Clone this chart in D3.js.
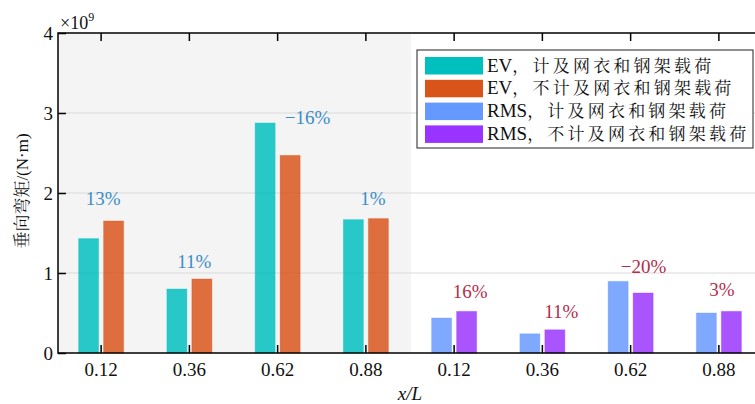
<!DOCTYPE html>
<html><head><meta charset="utf-8">
<script src="https://cdn.jsdelivr.net/npm/d3@7"></script>
<style>body{margin:0;background:#fff}svg{display:block}</style>
</head><body>
<svg id="chart" width="755" height="404"></svg>
<script>
// ---- data ----
const categories = ["0.12","0.36","0.62","0.88","0.12","0.36","0.62","0.88"];
const evWith     = [1.43, 0.80, 2.875, 1.667];
const evWithout  = [1.65, 0.925, 2.47, 1.68];
const rmsWith    = [0.4375, 0.24, 0.895, 0.50];
const rmsWithout = [0.52, 0.29, 0.75, 0.52];
const evPct  = ["13%","11%","\u221216%","1%"];
const rmsPct = ["16%","11%","\u221220%","3%"];
const evPctAt  = [1.93, 1.14, 2.95, 1.93];
const rmsPctAt = [0.77, 0.52, 1.08, 0.80];
const yTicks = [0,1,2,3,4];
const seriesNames = ["EV，计及网衣和钢架载荷","EV，不计及网衣和钢架载荷","RMS，计及网衣和钢架载荷","RMS，不计及网衣和钢架载荷"];
const seriesColors = ["#00bfbf","#d9541a","#6699ff","#9933ff"];

// ---- layout ----
const W = 755, H = 404;
const m = {left:58, top:33, bottom:353, right:763};
const evDx = [2, 5, 30, 7];
const rmsDx = [16, 19, 13, 3];
const serif = "'Liberation Serif','DejaVu Serif',serif";
const cjk = "'Liberation Serif','Noto Serif CJK SC','Noto Sans CJK SC',serif";

const svg = d3.select("#chart");
const idx = d3.range(categories.length);
const x = d3.scaleBand().domain(idx).range([m.left - 1, m.right]).padding(0);
const y = d3.scaleLinear().domain([0,4]).range([m.bottom, m.top]);
const step = x.bandwidth();
const inner = d3.scaleBand().domain([0,1]).range([step/2 - 22.5, step/2 + 22.5]).paddingInner(0.2);

// gray background for EV half
svg.append("rect").attr("x", m.left).attr("y", m.top)
  .attr("width", x(4) + 1 - m.left).attr("height", m.bottom - m.top).attr("fill", "#f4f4f4");

// gridlines
svg.append("g").selectAll("line").data(yTicks.slice(1,4)).join("line")
  .attr("x1", m.left).attr("x2", m.right).attr("y1", d=>y(d)).attr("y2", d=>y(d))
  .attr("stroke", "#dadada").attr("stroke-width", 1);

// bars
const groups = [
  {start:0, vals:[evWith, evWithout], cols:[seriesColors[0], seriesColors[1]]},
  {start:4, vals:[rmsWith, rmsWithout], cols:[seriesColors[2], seriesColors[3]]}
];
const barData = [];
groups.forEach(g => g.vals.forEach((arr, s) => arr.forEach((v, i) =>
  barData.push({cat: g.start + i, s, v, c: g.cols[s]}))));
svg.append("g").selectAll("rect").data(barData).join("rect")
  .attr("x", d => x(d.cat) + inner(d.s))
  .attr("width", inner.bandwidth())
  .attr("y", d => y(d.v))
  .attr("height", d => y(0) - y(d.v))
  .attr("fill", d => d.c).attr("fill-opacity", 0.84)
  .attr("stroke", d => d.c).attr("stroke-opacity", 0.35).attr("stroke-width", 1);

// percent labels
const lab = [];
evPct.forEach((t,i)=>lab.push({cat:i, t, v:evPctAt[i], dx:evDx[i], c:"#3a8dc8"}));
rmsPct.forEach((t,i)=>lab.push({cat:4+i, t, v:rmsPctAt[i], dx:rmsDx[i], c:"#b52c4c"}));
svg.append("g").selectAll("text").data(lab).join("text")
  .attr("x", d => x(d.cat) + step/2 + d.dx)
  .attr("y", d => y(d.v) + 6.5)
  .attr("text-anchor", "middle")
  .attr("font-family", serif).attr("font-size", 19)
  .attr("fill", d => d.c).text(d => d.t);

// axes box
const axisG = svg.append("g");
axisG.append("rect").attr("x", m.left).attr("y", m.top)
  .attr("width", m.right - m.left).attr("height", m.bottom - m.top)
  .attr("fill", "none").attr("stroke", "#000").attr("stroke-width", 1.5);

const xb = axisG.append("g").attr("transform", `translate(0,${m.bottom})`)
  .call(d3.axisBottom(x).tickSize(-8).tickPadding(10).tickFormat(i => categories[i]));
const xt = axisG.append("g").attr("transform", `translate(0,${m.top})`)
  .call(d3.axisTop(x).tickSize(-8).tickFormat(""));
const yl = axisG.append("g").attr("transform", `translate(${m.left},0)`)
  .call(d3.axisLeft(y).tickValues(yTicks).tickSize(-8).tickPadding(5).tickFormat(d3.format("d")));
const yr = axisG.append("g").attr("transform", `translate(${m.right},0)`)
  .call(d3.axisRight(y).tickValues(yTicks).tickSize(-8).tickFormat(""));
[xb, xt, yl, yr].forEach(g => {
  g.select(".domain").remove();
  g.selectAll(".tick line").attr("stroke", "#000").attr("stroke-width", 1.5);
  g.selectAll(".tick text").attr("font-family", serif).attr("font-size", 19).attr("fill", "#111");
});
xb.selectAll(".tick text").attr("dy", "0.71em");
yl.selectAll(".tick text").attr("dy", "0.35em");

// exponent
const ex = svg.append("text").attr("x", 60).attr("y", 29)
  .attr("font-family", serif).attr("font-size", 18).attr("fill", "#111");
ex.append("tspan").text("×10");
ex.append("tspan").attr("font-size", 12).attr("dy", -8).text("9");

// axis labels
svg.append("text").attr("transform", "translate(28,191) rotate(-90)")
  .attr("text-anchor", "middle").attr("font-family", cjk).attr("font-size", 17).attr("fill", "#111")
  .text("垂向弯矩/(N·m)");
const xl = svg.append("text").attr("x", 410).attr("y", 400).attr("text-anchor", "middle")
  .attr("font-family", serif).attr("font-size", 19).attr("font-style", "italic").attr("fill", "#111");
xl.text("x/L");

// legend
const lg = svg.append("g");
lg.append("rect").attr("x", 417).attr("y", 50).attr("width", 336).attr("height", 98)
  .attr("fill", "#fff").attr("stroke", "#222").attr("stroke-width", 1);
seriesNames.forEach((name, i) => {
  const yy = 57 + i * 22.8;
  lg.append("rect").attr("x", 425).attr("y", yy).attr("width", 58).attr("height", 17.5)
    .attr("fill", seriesColors[i]);
  const parts = name.split("，");
  const t = lg.append("text").attr("x", 487).attr("y", yy + 14.5)
    .attr("font-family", cjk).attr("font-size", 18).attr("fill", "#111");
  t.append("tspan").attr("font-family", serif).attr("font-size", 19).text(parts[0]);
  t.append("tspan").attr("font-size", 17).attr("letter-spacing", 3.2).text("，" + parts[1]);
});
</script>
</body></html>
